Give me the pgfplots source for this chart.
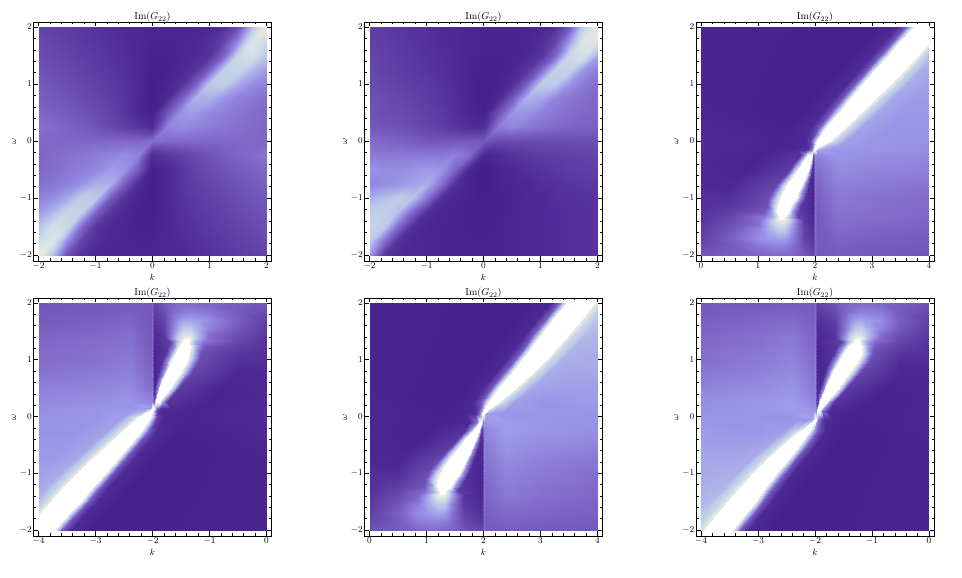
\documentclass[border=0pt]{standalone}
\usepackage{pgfplots}
\usepackage{pgfplotstable}
\pgfplotsset{compat=1.18}
\pgfplotsset{colormap={gr}{rgb255(0pt)=(62,26,130); rgb255(10pt)=(78,42,150); rgb255(20pt)=(96,64,166); rgb255(35pt)=(126,100,198); rgb255(50pt)=(154,148,232); rgb255(65pt)=(188,200,232); rgb255(80pt)=(210,226,232); rgb255(90pt)=(238,232,218); rgb255(94pt)=(250,248,240); rgb255(97pt)=(255,255,255); rgb255(100pt)=(255,255,255)}}
% Panel 1, upper half (the lower half is its point reflection)
\pgfplotstableread[row sep=\\]{
x y z\\
-2 2 .22\\ -1.75 2 .2\\ -1.5 2 .18\\ -1.25 2 .16\\ -1 2 .14\\ -.75 2 .12\\ -.5 2 .1\\ -.25 2 .09\\ 0 2 .08\\ .25 2 .08\\ .5 2 .08\\ .75 2 .08\\ 1 2 .09\\ 1.25 2 .13\\ 1.5 2 .27\\ 1.75 2 .62\\ 2 2 .92\\
-2 1.75 .24\\ -1.75 1.75 .22\\ -1.5 1.75 .2\\ -1.25 1.75 .17\\ -1 1.75 .15\\ -.75 1.75 .13\\ -.5 1.75 .11\\ -.25 1.75 .09\\ 0 1.75 .07\\ .25 1.75 .07\\ .5 1.75 .08\\ .75 1.75 .09\\ 1 1.75 .12\\ 1.25 1.75 .22\\ 1.5 1.75 .47\\ 1.75 1.75 .84\\ 2 1.75 .76\\
-2 1.5 .26\\ -1.75 1.5 .24\\ -1.5 1.5 .22\\ -1.25 1.5 .19\\ -1 1.5 .17\\ -.75 1.5 .14\\ -.5 1.5 .12\\ -.25 1.5 .09\\ 0 1.5 .06\\ .25 1.5 .06\\ .5 1.5 .08\\ .75 1.5 .1\\ 1 1.5 .14\\ 1.25 1.5 .37\\ 1.5 1.5 .74\\ 1.75 1.5 .8\\ 2 1.5 .64\\
-2 1.25 .28\\ -1.75 1.25 .26\\ -1.5 1.25 .24\\ -1.25 1.25 .21\\ -1 1.25 .18\\ -.75 1.25 .16\\ -.5 1.25 .13\\ -.25 1.25 .09\\ 0 1.25 .05\\ .25 1.25 .06\\ .5 1.25 .09\\ .75 1.25 .15\\ 1 1.25 .34\\ 1.25 1.25 .7\\ 1.5 1.25 .72\\ 1.75 1.25 .6\\ 2 1.25 .52\\
-2 1 .3\\ -1.75 1 .28\\ -1.5 1 .26\\ -1.25 1 .23\\ -1 1 .2\\ -.75 1 .17\\ -.5 1 .14\\ -.25 1 .09\\ 0 1 .04\\ .25 1 .07\\ .5 1 .13\\ .75 1 .32\\ 1 1 .66\\ 1.25 1 .68\\ 1.5 1 .56\\ 1.75 1 .48\\ 2 1 .44\\
-2 .75 .33\\ -1.75 .75 .3\\ -1.5 .75 .28\\ -1.25 .75 .25\\ -1 .75 .22\\ -.75 .75 .19\\ -.5 .75 .15\\ -.25 .75 .09\\ 0 .75 .04\\ .25 .75 .1\\ .5 .75 .32\\ .75 .75 .58\\ 1 .75 .58\\ 1.25 .75 .5\\ 1.5 .75 .44\\ 1.75 .75 .41\\ 2 .75 .39\\
-2 .5 .36\\ -1.75 .5 .33\\ -1.5 .5 .31\\ -1.25 .5 .28\\ -1 .5 .25\\ -.75 .5 .21\\ -.5 .5 .15\\ -.25 .5 .08\\ 0 .5 .05\\ .25 .5 .3\\ .5 .5 .5\\ .75 .5 .52\\ 1 .5 .46\\ 1.25 .5 .43\\ 1.5 .5 .41\\ 1.75 .5 .38\\ 2 .5 .36\\
-2 .25 .4\\ -1.75 .25 .37\\ -1.5 .25 .35\\ -1.25 .25 .32\\ -1 .25 .28\\ -.75 .25 .24\\ -.5 .25 .2\\ -.25 .25 .16\\ 0 .25 .1\\ .25 .25 .45\\ .5 .25 .47\\ .75 .25 .45\\ 1 .25 .43\\ 1.25 .25 .41\\ 1.5 .25 .39\\ 1.75 .25 .37\\ 2 .25 .35\\
-2 0 .36\\ -1.75 0 .36\\ -1.5 0 .36\\ -1.25 0 .36\\ -1 0 .36\\ -.75 0 .36\\ -.5 0 .36\\ -.25 0 .36\\ 0 0 .38\\ .25 0 .36\\ .5 0 .36\\ .75 0 .36\\ 1 0 .36\\ 1.25 0 .36\\ 1.5 0 .36\\ 1.75 0 .36\\ 2 0 .36\\
}\Pa
% Panel 2
\pgfplotstableread[row sep=\\]{
x y z\\
-2 2 .2\\ -1.75 2 .18\\ -1.5 2 .16\\ -1.25 2 .14\\ -1 2 .13\\ -.75 2 .11\\ -.5 2 .1\\ -.25 2 .08\\ 0 2 .07\\ .25 2 .07\\ .5 2 .07\\ .75 2 .08\\ 1 2 .09\\ 1.25 2 .12\\ 1.5 2 .3\\ 1.75 2 .7\\ 2 2 .88\\
-2 1.75 .2\\ -1.75 1.75 .19\\ -1.5 1.75 .17\\ -1.25 1.75 .15\\ -1 1.75 .13\\ -.75 1.75 .11\\ -.5 1.75 .1\\ -.25 1.75 .08\\ 0 1.75 .07\\ .25 1.75 .07\\ .5 1.75 .07\\ .75 1.75 .08\\ 1 1.75 .11\\ 1.25 1.75 .22\\ 1.5 1.75 .5\\ 1.75 1.75 .84\\ 2 1.75 .85\\
-2 1.5 .22\\ -1.75 1.5 .2\\ -1.5 1.5 .18\\ -1.25 1.5 .16\\ -1 1.5 .14\\ -.75 1.5 .12\\ -.5 1.5 .1\\ -.25 1.5 .08\\ 0 1.5 .06\\ .25 1.5 .06\\ .5 1.5 .07\\ .75 1.5 .09\\ 1 1.5 .14\\ 1.25 1.5 .36\\ 1.5 1.5 .74\\ 1.75 1.5 .8\\ 2 1.5 .55\\
-2 1.25 .23\\ -1.75 1.25 .21\\ -1.5 1.25 .19\\ -1.25 1.25 .17\\ -1 1.25 .15\\ -.75 1.25 .13\\ -.5 1.25 .1\\ -.25 1.25 .07\\ 0 1.25 .05\\ .25 1.25 .06\\ .5 1.25 .08\\ .75 1.25 .14\\ 1 1.25 .34\\ 1.25 1.25 .7\\ 1.5 1.25 .7\\ 1.75 1.25 .5\\ 2 1.25 .42\\
-2 1 .25\\ -1.75 1 .23\\ -1.5 1 .21\\ -1.25 1 .19\\ -1 1 .17\\ -.75 1 .14\\ -.5 1 .11\\ -.25 1 .07\\ 0 1 .04\\ .25 1 .06\\ .5 1 .12\\ .75 1 .32\\ 1 1 .66\\ 1.25 1 .66\\ 1.5 1 .5\\ 1.75 1 .42\\ 2 1 .38\\
-2 .75 .27\\ -1.75 .75 .25\\ -1.5 .75 .23\\ -1.25 .75 .21\\ -1 .75 .18\\ -.75 .75 .15\\ -.5 .75 .12\\ -.25 .75 .07\\ 0 .75 .04\\ .25 .75 .09\\ .5 .75 .3\\ .75 .75 .58\\ 1 .75 .56\\ 1.25 .75 .46\\ 1.5 .75 .41\\ 1.75 .75 .38\\ 2 .75 .36\\
-2 .5 .28\\ -1.75 .5 .26\\ -1.5 .5 .25\\ -1.25 .5 .23\\ -1 .5 .2\\ -.75 .5 .17\\ -.5 .5 .13\\ -.25 .5 .08\\ 0 .5 .05\\ .25 .5 .28\\ .5 .5 .5\\ .75 .5 .5\\ 1 .5 .44\\ 1.25 .5 .41\\ 1.5 .5 .38\\ 1.75 .5 .36\\ 2 .5 .35\\
-2 .25 .3\\ -1.75 .25 .28\\ -1.5 .25 .27\\ -1.25 .25 .25\\ -1 .25 .22\\ -.75 .25 .19\\ -.5 .25 .15\\ -.25 .25 .12\\ 0 .25 .12\\ .25 .25 .43\\ .5 .25 .45\\ .75 .25 .42\\ 1 .25 .39\\ 1.25 .25 .37\\ 1.5 .25 .35\\ 1.75 .25 .34\\ 2 .25 .33\\
-2 0 .38\\ -1.75 0 .36\\ -1.5 0 .34\\ -1.25 0 .32\\ -1 0 .3\\ -.75 0 .3\\ -.5 0 .3\\ -.25 0 .3\\ 0 0 .3\\ .25 0 .24\\ .5 0 .25\\ .75 0 .25\\ 1 0 .25\\ 1.25 0 .25\\ 1.5 0 .26\\ 1.75 0 .26\\ 2 0 .26\\
-2 -.25 .42\\ -1.75 -.25 .41\\ -1.5 -.25 .42\\ -1.25 -.25 .42\\ -1 -.25 .42\\ -.75 -.25 .42\\ -.5 -.25 .44\\ -.25 -.25 .38\\ 0 -.25 .08\\ .25 -.25 .1\\ .5 -.25 .14\\ .75 -.25 .16\\ 1 -.25 .18\\ 1.25 -.25 .19\\ 1.5 -.25 .2\\ 1.75 -.25 .21\\ 2 -.25 .22\\
-2 -.5 .5\\ -1.75 -.5 .48\\ -1.5 -.5 .48\\ -1.25 -.5 .5\\ -1 -.5 .52\\ -.75 -.5 .5\\ -.5 -.5 .34\\ -.25 -.5 .08\\ 0 -.5 .03\\ .25 -.5 .07\\ .5 -.5 .09\\ .75 -.5 .12\\ 1 -.5 .14\\ 1.25 -.5 .16\\ 1.5 -.5 .18\\ 1.75 -.5 .19\\ 2 -.5 .2\\
-2 -.75 .46\\ -1.75 -.75 .48\\ -1.5 -.75 .5\\ -1.25 -.75 .54\\ -1 -.75 .58\\ -.75 -.75 .4\\ -.5 -.75 .12\\ -.25 -.75 .06\\ 0 -.75 .03\\ .25 -.75 .06\\ .5 -.75 .08\\ .75 -.75 .09\\ 1 -.75 .12\\ 1.25 -.75 .13\\ 1.5 -.75 .15\\ 1.75 -.75 .16\\ 2 -.75 .17\\
-2 -1 .58\\ -1.75 -1 .62\\ -1.5 -1 .67\\ -1.25 -1 .64\\ -1 -1 .4\\ -.75 -1 .12\\ -.5 -1 .08\\ -.25 -1 .06\\ 0 -1 .04\\ .25 -1 .06\\ .5 -1 .07\\ .75 -1 .09\\ 1 -1 .1\\ 1.25 -1 .12\\ 1.5 -1 .13\\ 1.75 -1 .14\\ 2 -1 .15\\
-2 -1.25 .68\\ -1.75 -1.25 .7\\ -1.5 -1.25 .62\\ -1.25 -1.25 .36\\ -1 -1.25 .12\\ -.75 -1.25 .08\\ -.5 -1.25 .07\\ -.25 -1.25 .06\\ 0 -1.25 .05\\ .25 -1.25 .06\\ .5 -1.25 .08\\ .75 -1.25 .09\\ 1 -1.25 .1\\ 1.25 -1.25 .11\\ 1.5 -1.25 .12\\ 1.75 -1.25 .13\\ 2 -1.25 .14\\
-2 -1.5 .72\\ -1.75 -1.5 .66\\ -1.5 -1.5 .36\\ -1.25 -1.5 .12\\ -1 -1.5 .08\\ -.75 -1.5 .07\\ -.5 -1.5 .06\\ -.25 -1.5 .06\\ 0 -1.5 .05\\ .25 -1.5 .07\\ .5 -1.5 .08\\ .75 -1.5 .09\\ 1 -1.5 .1\\ 1.25 -1.5 .11\\ 1.5 -1.5 .12\\ 1.75 -1.5 .13\\ 2 -1.5 .14\\
-2 -1.75 .66\\ -1.75 -1.75 .38\\ -1.5 -1.75 .13\\ -1.25 -1.75 .09\\ -1 -1.75 .08\\ -.75 -1.75 .07\\ -.5 -1.75 .07\\ -.25 -1.75 .07\\ 0 -1.75 .06\\ .25 -1.75 .07\\ .5 -1.75 .08\\ .75 -1.75 .09\\ 1 -1.75 .1\\ 1.25 -1.75 .11\\ 1.5 -1.75 .12\\ 1.75 -1.75 .13\\ 2 -1.75 .14\\
-2 -2 .5\\ -1.75 -2 .16\\ -1.5 -2 .1\\ -1.25 -2 .09\\ -1 -2 .08\\ -.75 -2 .07\\ -.5 -2 .07\\ -.25 -2 .07\\ 0 -2 .07\\ .25 -2 .07\\ .5 -2 .08\\ .75 -2 .09\\ 1 -2 .1\\ 1.25 -2 .11\\ 1.5 -2 .12\\ 1.75 -2 .13\\ 2 -2 .14\\
}\Pb
% Panel 3, below the junction (lobe)
\pgfplotstableread[row sep=\\]{
x y z\\
0 -2 .3\\ .5 -2 .32\\ 1 -2 .35\\ 1.2 -2 .36\\ 1.35 -2 .37\\ 1.45 -2 .37\\ 1.6 -2 .35\\ 1.8 -2 .3\\ 1.97 -2 .22\\ 2 -2 .36\\ 2.03 -2 .3\\ 2.4 -2 .32\\ 3 -2 .3\\ 4 -2 .29\\
0 -1.85 .25\\ .5 -1.85 .31\\ 1 -1.85 .41\\ 1.2 -1.85 .43\\ 1.35 -1.85 .44\\ 1.45 -1.85 .43\\ 1.6 -1.85 .38\\ 1.8 -1.85 .26\\ 1.97 -1.85 .18\\ 2 -1.85 .36\\ 2.03 -1.85 .3\\ 2.4 -1.85 .33\\ 3 -1.85 .31\\ 4 -1.85 .3\\
0 -1.7 .2\\ .5 -1.7 .33\\ 1 -1.7 .48\\ 1.2 -1.7 .52\\ 1.35 -1.7 .55\\ 1.45 -1.7 .54\\ 1.6 -1.7 .44\\ 1.8 -1.7 .22\\ 1.97 -1.7 .14\\ 2 -1.7 .37\\ 2.03 -1.7 .3\\ 2.4 -1.7 .35\\ 3 -1.7 .33\\ 4 -1.7 .31\\
0 -1.55 .17\\ .5 -1.55 .29\\ 1 -1.55 .44\\ 1.2 -1.55 .58\\ 1.35 -1.55 .68\\ 1.45 -1.55 .68\\ 1.6 -1.55 .5\\ 1.8 -1.55 .2\\ 1.97 -1.55 .12\\ 2 -1.55 .38\\ 2.03 -1.55 .3\\ 2.4 -1.55 .37\\ 3 -1.55 .35\\ 4 -1.55 .33\\
0 -1.45 .16\\ .5 -1.45 .26\\ 1 -1.45 .38\\ 1.2 -1.45 .6\\ 1.35 -1.45 .8\\ 1.45 -1.45 .8\\ 1.6 -1.45 .55\\ 1.8 -1.45 .18\\ 1.97 -1.45 .1\\ 2 -1.45 .38\\ 2.03 -1.45 .3\\ 2.4 -1.45 .38\\ 3 -1.45 .36\\ 4 -1.45 .34\\
0 -1.38 .15\\ .5 -1.38 .24\\ 1 -1.38 .38\\ 1.2 -1.38 .6\\ 1.35 -1.38 .92\\ 1.45 -1.38 .92\\ 1.6 -1.38 .6\\ 1.8 -1.38 .16\\ 1.97 -1.38 .1\\ 2 -1.38 .38\\ 2.03 -1.38 .3\\ 2.4 -1.38 .39\\ 3 -1.38 .37\\ 4 -1.38 .35\\
0 -1.33 .14\\ .5 -1.33 .23\\ 1.1 -1.33 .42\\ 1.28 -1.33 .62\\ 1.38 -1.33 1\\ 1.44 -1.33 1\\ 1.55 -1.33 .64\\ 1.7 -1.33 .22\\ 1.97 -1.33 .09\\ 2 -1.33 .38\\ 2.03 -1.33 .3\\ 2.4 -1.33 .39\\ 3 -1.33 .38\\ 4 -1.33 .36\\
0 -1.3 .14\\ .5 -1.3 .21\\ 1.1 -1.3 .37\\ 1.27 -1.3 .6\\ 1.37 -1.3 1\\ 1.48 -1.3 1\\ 1.58 -1.3 .6\\ 1.7 -1.3 .2\\ 1.97 -1.3 .09\\ 2 -1.3 .38\\ 2.03 -1.3 .3\\ 2.4 -1.3 .39\\ 3 -1.3 .38\\ 4 -1.3 .36\\
0 -1.25 .14\\ .5 -1.25 .19\\ 1.1 -1.25 .3\\ 1.26 -1.25 .6\\ 1.34 -1.25 1\\ 1.52 -1.25 1\\ 1.6 -1.25 .52\\ 1.72 -1.25 .18\\ 1.97 -1.25 .08\\ 2 -1.25 .38\\ 2.03 -1.25 .31\\ 2.4 -1.25 .4\\ 3 -1.25 .38\\ 4 -1.25 .36\\
0 -1.125 .13\\ .5 -1.125 .15\\ 1.15 -1.125 .27\\ 1.27 -1.125 .62\\ 1.37 -1.125 1\\ 1.58 -1.125 1\\ 1.65 -1.125 .55\\ 1.76 -1.125 .16\\ 1.97 -1.125 .07\\ 2 -1.125 .38\\ 2.03 -1.125 .32\\ 2.4 -1.125 .41\\ 3 -1.125 .39\\ 4 -1.125 .37\\
0 -1 .13\\ .5 -1 .13\\ 1.18 -1 .26\\ 1.3 -1 .62\\ 1.4 -1 1\\ 1.66 -1 1\\ 1.73 -1 .52\\ 1.84 -1 .14\\ 1.97 -1 .07\\ 2 -1 .38\\ 2.03 -1 .33\\ 2.4 -1 .42\\ 3 -1 .39\\ 4 -1 .37\\
0 -.875 .11\\ .5 -.875 .1\\ 1.25 -.875 .24\\ 1.37 -.875 .62\\ 1.46 -.875 1\\ 1.71 -.875 1\\ 1.77 -.875 .5\\ 1.87 -.875 .12\\ 1.97 -.875 .07\\ 2 -.875 .39\\ 2.03 -.875 .34\\ 2.4 -.875 .43\\ 3 -.875 .41\\ 4 -.875 .39\\
0 -.75 .1\\ .5 -.75 .09\\ 1.33 -.75 .22\\ 1.44 -.75 .62\\ 1.53 -.75 1\\ 1.77 -.75 1\\ 1.82 -.75 .5\\ 1.9 -.75 .12\\ 1.97 -.75 .07\\ 2 -.75 .4\\ 2.03 -.75 .35\\ 2.4 -.75 .44\\ 3 -.75 .42\\ 4 -.75 .4\\
0 -.625 .09\\ .6 -.625 .08\\ 1.44 -.625 .2\\ 1.54 -.625 .62\\ 1.62 -.625 1\\ 1.83 -.625 1\\ 1.87 -.625 .5\\ 1.93 -.625 .12\\ 1.97 -.625 .08\\ 2 -.625 .41\\ 2.03 -.625 .37\\ 2.4 -.625 .46\\ 3 -.625 .44\\ 4 -.625 .42\\
0 -.5 .09\\ .8 -.5 .07\\ 1.54 -.5 .18\\ 1.63 -.5 .62\\ 1.7 -.5 1\\ 1.88 -.5 1\\ 1.91 -.5 .5\\ 1.95 -.5 .14\\ 1.97 -.5 .1\\ 2 -.5 .42\\ 2.03 -.5 .38\\ 2.4 -.5 .47\\ 3 -.5 .45\\ 4 -.5 .44\\
0 -.375 .09\\ .9 -.375 .07\\ 1.64 -.375 .16\\ 1.73 -.375 .6\\ 1.79 -.375 1\\ 1.92 -.375 1\\ 1.94 -.375 .5\\ 1.96 -.375 .2\\ 1.97 -.375 .14\\ 2 -.375 .44\\ 2.03 -.375 .42\\ 2.4 -.375 .49\\ 3 -.375 .47\\ 4 -.375 .45\\
0 -.25 .09\\ 1 -.25 .07\\ 1.74 -.25 .14\\ 1.83 -.25 .55\\ 1.88 -.25 1\\ 1.95 -.25 1\\ 1.96 -.25 .7\\ 1.965 -.25 .4\\ 1.97 -.25 .3\\ 2 -.25 .46\\ 2.03 -.25 .45\\ 2.4 -.25 .5\\ 3 -.25 .48\\ 4 -.25 .46\\
0 -.15 .1\\ 1.2 -.15 .07\\ 1.7 -.15 .1\\ 1.85 -.15 .14\\ 1.94 -.15 .45\\ 1.97 -.15 .85\\ 1.98 -.15 1\\ 1.99 -.15 1\\ 1.995 -.15 1\\ 2 -.15 1\\ 2.03 -.15 .55\\ 2.3 -.15 .5\\ 3 -.15 .5\\ 4 -.15 .48\\
}\Pclo
% Panel 3, above the junction (band)
\pgfplotstableread[row sep=\\]{
x y z\\
0 -.15 .1\\ 1.2 -.15 .07\\ 1.7 -.15 .1\\ 1.85 -.15 .14\\ 1.94 -.15 .45\\ 1.98 -.15 1\\ 2 -.15 1\\ 2.03 -.15 .55\\ 2.1 -.15 .5\\ 2.3 -.15 .5\\ 3 -.15 .5\\ 4 -.15 .48\\
0 -.1 .1\\ 1.3 -.1 .07\\ 1.8 -.1 .09\\ 1.9 -.1 .14\\ 1.96 -.1 .45\\ 2 -.1 1\\ 2.06 -.1 1\\ 2.09 -.1 .8\\ 2.15 -.1 .6\\ 2.35 -.1 .52\\ 3 -.1 .5\\ 4 -.1 .48\\
0 0 .11\\ 1.4 0 .07\\ 1.8 0 .09\\ 1.92 0 .2\\ 1.98 0 .55\\ 2.04 0 1\\ 2.24 0 1\\ 2.28 0 .88\\ 2.36 0 .68\\ 2.54 0 .53\\ 3 0 .5\\ 4 0 .49\\
0 .25 .09\\ 1.5 .25 .06\\ 1.92 .25 .1\\ 2.07 .25 .3\\ 2.14 .25 .6\\ 2.2 .25 1\\ 2.52 .25 1\\ 2.56 .25 .88\\ 2.64 .25 .7\\ 2.82 .25 .54\\ 3.3 .25 .5\\ 4 .25 .5\\
0 .5 .08\\ 1.72 .5 .05\\ 2.12 .5 .1\\ 2.27 .5 .3\\ 2.35 .5 .62\\ 2.42 .5 1\\ 2.78 .5 1\\ 2.82 .5 .88\\ 2.9 .5 .72\\ 3.08 .5 .55\\ 3.5 .5 .51\\ 4 .5 .51\\
0 .75 .07\\ 1.93 .75 .05\\ 2.33 .75 .1\\ 2.48 .75 .3\\ 2.56 .75 .62\\ 2.63 .75 1\\ 3.05 .75 1\\ 3.09 .75 .88\\ 3.17 .75 .72\\ 3.35 .75 .56\\ 3.75 .75 .52\\ 4 .75 .52\\
0 1 .07\\ 2.14 1 .05\\ 2.54 1 .1\\ 2.69 1 .3\\ 2.77 1 .62\\ 2.84 1 1\\ 3.31 1 1\\ 3.35 1 .88\\ 3.43 1 .72\\ 3.61 1 .57\\ 3.9 1 .54\\ 4 1 .53\\
0 1.25 .07\\ 2.36 1.25 .05\\ 2.76 1.25 .1\\ 2.91 1.25 .3\\ 2.99 1.25 .62\\ 3.06 1.25 1\\ 3.55 1.25 1\\ 3.59 1.25 .88\\ 3.67 1.25 .72\\ 3.85 1.25 .58\\ 3.95 1.25 .56\\ 4 1.25 .55\\
0 1.5 .07\\ 2.58 1.5 .05\\ 2.98 1.5 .1\\ 3.13 1.5 .3\\ 3.21 1.5 .62\\ 3.28 1.5 1\\ 3.78 1.5 1\\ 3.82 1.5 .88\\ 3.9 1.5 .72\\ 3.97 1.5 .64\\ 3.99 1.5 .62\\ 4 1.5 .6\\
0 1.72 .07\\ 2.78 1.72 .05\\ 3.18 1.72 .1\\ 3.33 1.72 .3\\ 3.41 1.72 .62\\ 3.48 1.72 1\\ 3.99 1.72 1\\ 3.995 1.72 .95\\ 3.997 1.72 .9\\ 3.998 1.72 .88\\ 3.999 1.72 .86\\ 4 1.72 .85\\
0 2 .07\\ 3.03 2 .05\\ 3.43 2 .1\\ 3.58 2 .3\\ 3.66 2 .62\\ 3.73 2 1\\ 3.995 2 1\\ 3.996 2 1\\ 3.997 2 1\\ 3.998 2 1\\ 3.999 2 1\\ 4 2 1\\
}\Pchi
% Panel 5, below the junction (lobe)
\pgfplotstableread[row sep=\\]{
x y z\\
0 -2 .28\\ .5 -2 .32\\ .85 -2 .36\\ 1.05 -2 .37\\ 1.2 -2 .37\\ 1.3 -2 .36\\ 1.45 -2 .34\\ 1.65 -2 .28\\ 1.97 -2 .22\\ 2 -2 .36\\ 2.03 -2 .32\\ 2.4 -2 .32\\ 3 -2 .31\\ 4 -2 .3\\
0 -1.85 .24\\ .5 -1.85 .31\\ .85 -1.85 .42\\ 1.05 -1.85 .44\\ 1.2 -1.85 .44\\ 1.3 -1.85 .42\\ 1.45 -1.85 .36\\ 1.65 -1.85 .24\\ 1.97 -1.85 .16\\ 2 -1.85 .37\\ 2.03 -1.85 .32\\ 2.4 -1.85 .34\\ 3 -1.85 .33\\ 4 -1.85 .31\\
0 -1.7 .2\\ .5 -1.7 .33\\ .85 -1.7 .48\\ 1.05 -1.7 .52\\ 1.2 -1.7 .55\\ 1.3 -1.7 .54\\ 1.45 -1.7 .4\\ 1.65 -1.7 .2\\ 1.97 -1.7 .13\\ 2 -1.7 .38\\ 2.03 -1.7 .33\\ 2.4 -1.7 .37\\ 3 -1.7 .35\\ 4 -1.7 .33\\
0 -1.55 .17\\ .5 -1.55 .29\\ .85 -1.55 .44\\ 1.05 -1.55 .58\\ 1.2 -1.55 .68\\ 1.3 -1.55 .66\\ 1.45 -1.55 .44\\ 1.65 -1.55 .16\\ 1.97 -1.55 .1\\ 2 -1.55 .4\\ 2.03 -1.55 .34\\ 2.4 -1.55 .39\\ 3 -1.55 .37\\ 4 -1.55 .34\\
0 -1.45 .16\\ .5 -1.45 .26\\ .85 -1.45 .38\\ 1.05 -1.45 .6\\ 1.2 -1.45 .8\\ 1.3 -1.45 .8\\ 1.45 -1.45 .5\\ 1.65 -1.45 .15\\ 1.97 -1.45 .09\\ 2 -1.45 .4\\ 2.03 -1.45 .34\\ 2.4 -1.45 .41\\ 3 -1.45 .38\\ 4 -1.45 .35\\
0 -1.38 .15\\ .5 -1.38 .24\\ .85 -1.38 .36\\ 1.05 -1.38 .58\\ 1.2 -1.38 .92\\ 1.3 -1.38 .92\\ 1.45 -1.38 .56\\ 1.65 -1.38 .14\\ 1.97 -1.38 .08\\ 2 -1.38 .4\\ 2.03 -1.38 .35\\ 2.4 -1.38 .42\\ 3 -1.38 .39\\ 4 -1.38 .36\\
0 -1.33 .14\\ .5 -1.33 .23\\ .95 -1.33 .38\\ 1.13 -1.33 .6\\ 1.25 -1.33 1\\ 1.3 -1.33 1\\ 1.42 -1.33 .6\\ 1.55 -1.33 .2\\ 1.97 -1.33 .08\\ 2 -1.33 .4\\ 2.03 -1.33 .35\\ 2.4 -1.33 .42\\ 3 -1.33 .39\\ 4 -1.33 .36\\
0 -1.3 .14\\ .5 -1.3 .21\\ .95 -1.3 .34\\ 1.12 -1.3 .6\\ 1.22 -1.3 1\\ 1.34 -1.3 1\\ 1.44 -1.3 .58\\ 1.56 -1.3 .18\\ 1.97 -1.3 .08\\ 2 -1.3 .4\\ 2.03 -1.3 .35\\ 2.4 -1.3 .42\\ 3 -1.3 .39\\ 4 -1.3 .36\\
0 -1.25 .13\\ .5 -1.25 .19\\ .95 -1.25 .3\\ 1.11 -1.25 .6\\ 1.2 -1.25 1\\ 1.41 -1.25 1\\ 1.49 -1.25 .52\\ 1.61 -1.25 .16\\ 1.97 -1.25 .07\\ 2 -1.25 .4\\ 2.03 -1.25 .36\\ 2.4 -1.25 .43\\ 3 -1.25 .4\\ 4 -1.25 .37\\
0 -1.125 .13\\ .5 -1.125 .15\\ .98 -1.125 .27\\ 1.1 -1.125 .62\\ 1.2 -1.125 1\\ 1.49 -1.125 1\\ 1.56 -1.125 .55\\ 1.67 -1.125 .14\\ 1.97 -1.125 .07\\ 2 -1.125 .41\\ 2.03 -1.125 .37\\ 2.4 -1.125 .44\\ 3 -1.125 .41\\ 4 -1.125 .38\\
0 -1 .12\\ .5 -1 .12\\ 1.03 -1 .26\\ 1.15 -1 .62\\ 1.25 -1 1\\ 1.57 -1 1\\ 1.64 -1 .52\\ 1.75 -1 .12\\ 1.97 -1 .07\\ 2 -1 .42\\ 2.03 -1 .38\\ 2.4 -1 .45\\ 3 -1 .42\\ 4 -1 .38\\
0 -.875 .1\\ .5 -.875 .09\\ 1.12 -.875 .24\\ 1.24 -.875 .62\\ 1.33 -.875 1\\ 1.64 -.875 1\\ 1.7 -.875 .5\\ 1.8 -.875 .1\\ 1.97 -.875 .07\\ 2 -.875 .43\\ 2.03 -.875 .39\\ 2.4 -.875 .46\\ 3 -.875 .43\\ 4 -.875 .4\\
0 -.75 .09\\ .5 -.75 .08\\ 1.22 -.75 .22\\ 1.33 -.75 .62\\ 1.42 -.75 1\\ 1.7 -.75 1\\ 1.75 -.75 .5\\ 1.84 -.75 .1\\ 1.97 -.75 .07\\ 2 -.75 .44\\ 2.03 -.75 .4\\ 2.4 -.75 .47\\ 3 -.75 .44\\ 4 -.75 .41\\
0 -.625 .08\\ .6 -.625 .07\\ 1.33 -.625 .2\\ 1.43 -.625 .62\\ 1.51 -.625 1\\ 1.76 -.625 1\\ 1.8 -.625 .5\\ 1.88 -.625 .1\\ 1.97 -.625 .08\\ 2 -.625 .44\\ 2.03 -.625 .41\\ 2.4 -.625 .49\\ 3 -.625 .46\\ 4 -.625 .43\\
0 -.5 .08\\ .8 -.5 .07\\ 1.44 -.5 .18\\ 1.53 -.5 .62\\ 1.6 -.5 1\\ 1.82 -.5 1\\ 1.85 -.5 .5\\ 1.92 -.5 .12\\ 1.97 -.5 .08\\ 2 -.5 .44\\ 2.03 -.5 .42\\ 2.4 -.5 .5\\ 3 -.5 .47\\ 4 -.5 .45\\
0 -.375 .08\\ .9 -.375 .06\\ 1.55 -.375 .16\\ 1.64 -.375 .6\\ 1.7 -.375 1\\ 1.87 -.375 1\\ 1.9 -.375 .5\\ 1.94 -.375 .16\\ 1.97 -.375 .1\\ 2 -.375 .45\\ 2.03 -.375 .44\\ 2.4 -.375 .51\\ 3 -.375 .49\\ 4 -.375 .47\\
0 -.25 .08\\ 1 -.25 .06\\ 1.66 -.25 .14\\ 1.76 -.25 .55\\ 1.81 -.25 1\\ 1.92 -.25 1\\ 1.94 -.25 .55\\ 1.955 -.25 .25\\ 1.97 -.25 .15\\ 2 -.25 .46\\ 2.03 -.25 .45\\ 2.4 -.25 .52\\ 3 -.25 .5\\ 4 -.25 .48\\
0 -.1 .08\\ 1.2 -.1 .06\\ 1.75 -.1 .09\\ 1.88 -.1 .4\\ 1.93 -.1 1\\ 1.97 -.1 1\\ 1.98 -.1 .8\\ 1.985 -.1 .6\\ 1.99 -.1 .4\\ 2 -.1 .5\\ 2.03 -.1 .5\\ 2.4 -.1 .52\\ 3 -.1 .5\\ 4 -.1 .49\\
0 .05 .08\\ 1.2 .05 .06\\ 1.7 .05 .08\\ 1.85 .05 .12\\ 1.94 .05 .42\\ 1.97 .05 .85\\ 1.98 .05 1\\ 1.99 .05 1\\ 1.995 .05 1\\ 2 .05 1\\ 2.03 .05 .55\\ 2.3 .05 .5\\ 3 .05 .5\\ 4 .05 .5\\
}\Pelo
% Panel 5, above the junction (band)
\pgfplotstableread[row sep=\\]{
x y z\\
0 .05 .08\\ 1.2 .05 .06\\ 1.7 .05 .08\\ 1.85 .05 .12\\ 1.94 .05 .42\\ 1.98 .05 1\\ 2 .05 1\\ 2.03 .05 .55\\ 2.1 .05 .5\\ 2.3 .05 .5\\ 3 .05 .5\\ 4 .05 .5\\
0 .25 .08\\ 1.4 .25 .05\\ 1.8 .25 .08\\ 1.95 .25 .28\\ 2.03 .25 .6\\ 2.1 .25 1\\ 2.25 .25 1\\ 2.29 .25 .88\\ 2.37 .25 .68\\ 2.55 .25 .53\\ 3 .25 .5\\ 4 .25 .52\\
0 .5 .07\\ 1.58 .5 .05\\ 1.98 .5 .09\\ 2.13 .5 .3\\ 2.21 .5 .62\\ 2.28 .5 1\\ 2.55 .5 1\\ 2.59 .5 .88\\ 2.67 .5 .7\\ 2.85 .5 .55\\ 3.25 .5 .53\\ 4 .5 .53\\
0 .75 .07\\ 1.78 .75 .05\\ 2.18 .75 .09\\ 2.33 .75 .3\\ 2.41 .75 .62\\ 2.48 .75 1\\ 2.82 .75 1\\ 2.86 .75 .88\\ 2.94 .75 .72\\ 3.12 .75 .57\\ 3.52 .75 .55\\ 4 .75 .55\\
0 1 .07\\ 1.98 1 .05\\ 2.38 1 .09\\ 2.53 1 .3\\ 2.61 1 .62\\ 2.68 1 1\\ 3.07 1 1\\ 3.11 1 .88\\ 3.19 1 .72\\ 3.37 1 .58\\ 3.77 1 .57\\ 4 1 .56\\
0 1.25 .07\\ 2.17 1.25 .05\\ 2.57 1.25 .09\\ 2.72 1.25 .3\\ 2.8 1.25 .62\\ 2.87 1.25 1\\ 3.3 1.25 1\\ 3.34 1.25 .88\\ 3.42 1.25 .73\\ 3.6 1.25 .59\\ 3.9 1.25 .58\\ 4 1.25 .58\\
0 1.5 .07\\ 2.36 1.5 .05\\ 2.76 1.5 .09\\ 2.91 1.5 .3\\ 2.99 1.5 .62\\ 3.06 1.5 1\\ 3.53 1.5 1\\ 3.57 1.5 .88\\ 3.65 1.5 .74\\ 3.83 1.5 .62\\ 3.95 1.5 .6\\ 4 1.5 .6\\
0 1.75 .07\\ 2.56 1.75 .05\\ 2.96 1.75 .09\\ 3.11 1.75 .3\\ 3.19 1.75 .62\\ 3.26 1.75 1\\ 3.74 1.75 1\\ 3.78 1.75 .88\\ 3.86 1.75 .75\\ 3.96 1.75 .66\\ 3.99 1.75 .65\\ 4 1.75 .64\\
0 2 .07\\ 2.76 2 .05\\ 3.16 2 .09\\ 3.31 2 .3\\ 3.39 2 .62\\ 3.46 2 1\\ 3.93 2 1\\ 3.96 2 .9\\ 3.98 2 .85\\ 3.99 2 .8\\ 3.995 2 .78\\ 4 2 .76\\
}\Pehi
\pgfplotsset{
  gp/.style={scale only axis,width=238pt,ymin=-2.105,ymax=2.088,
    axis on top,axis line style={line width=.9pt},
    tick align=inside,major tick length=4.5pt,minor tick length=2.5pt,
    every tick/.style={black,line width=.55pt},
    ytick={-2,-1,0,1,2},minor x tick num=4,minor y tick num=4,
    point meta min=0,point meta max=1,colormap name=gr,
    tick label style={font=\fontsize{9}{10}\selectfont,inner sep=1.5pt},
    title={$\mathrm{Im}(G_{22})$},
    title style={font=\fontsize{10}{11}\selectfont,at={(.5,1)},anchor=south,inner sep=.5pt,yshift=-7pt},
    xlabel={$k$},ylabel={$\omega$},
    label style={font=\fontsize{9}{10}\selectfont},
    xlabel style={at={(.5,-.07)},anchor=center,inner sep=0pt},
    ylabel style={at={(-.082,.5)},anchor=center,inner sep=0pt,rotate=0},
  },
  sf/.style={surf,shader=interp,mesh/ordering=x varies,mesh/cols=#1,point meta=\thisrow{z},forget plot},
  symx/.style={xmin=-2.088,xmax=2.088,xtick={-2,-1,0,1,2}},
  posx/.style={xmin=-.088,xmax=4.088,xtick={0,1,2,3,4}},
  negx/.style={xmin=-4.088,xmax=.088,xtick={-4,-3,-2,-1,0}},
}
\newcommand{\upl}[2]{\addplot[sf=#1] table[x=x,y=y]{#2};}
\newcommand{\rfl}[2]{\addplot[sf=#1] table[x expr=-\thisrow{x},y expr=-\thisrow{y}]{#2};}
\begin{document}
\begin{tikzpicture}
\path[use as bounding box] (0pt,0pt) rectangle (962pt,578pt);
\begin{axis}[gp,height=239pt,symx,at={(33.5pt,317pt)},anchor=south west]
\upl{17}{\Pa}\rfl{17}{\Pa}
\end{axis}
\begin{axis}[gp,height=239pt,symx,at={(364.5pt,317pt)},anchor=south west]
\upl{17}{\Pb}
\end{axis}
\begin{axis}[gp,height=239pt,posx,at={(696pt,317pt)},anchor=south west]
\upl{14}{\Pclo}\upl{12}{\Pchi}
\end{axis}
\begin{axis}[gp,height=238pt,negx,at={(33.5pt,42pt)},anchor=south west]
\rfl{14}{\Pclo}\rfl{12}{\Pchi}
\end{axis}
\begin{axis}[gp,height=238pt,posx,at={(364.5pt,42pt)},anchor=south west]
\upl{14}{\Pelo}\upl{12}{\Pehi}
\end{axis}
\begin{axis}[gp,height=238pt,negx,at={(696pt,42pt)},anchor=south west]
\rfl{14}{\Pelo}\rfl{12}{\Pehi}
\end{axis}
\end{tikzpicture}
\end{document}
